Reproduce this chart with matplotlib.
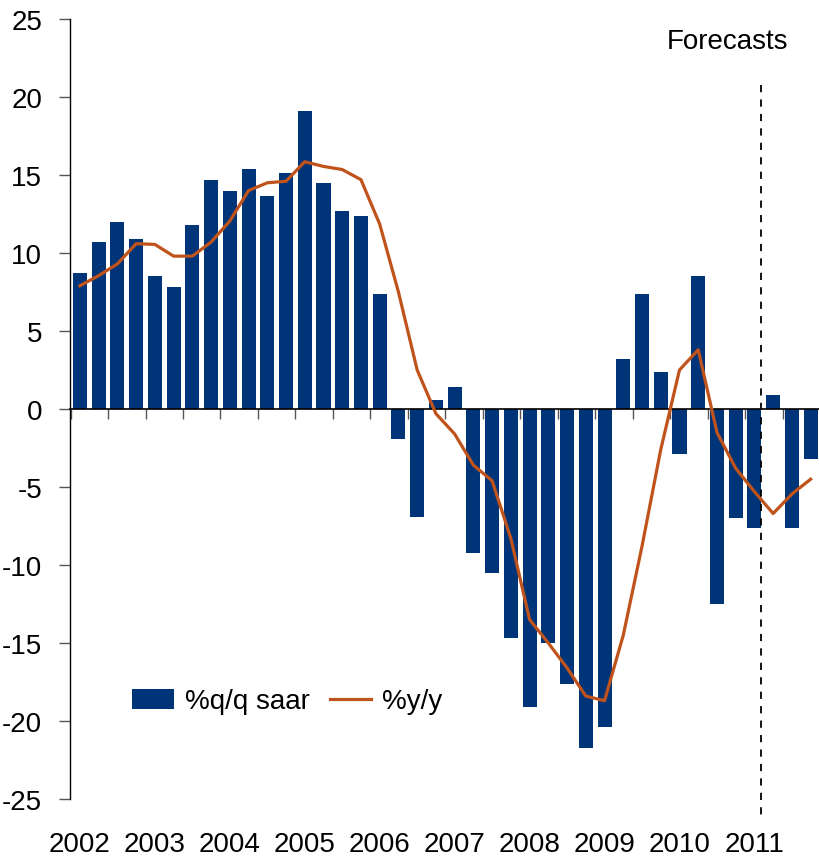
import matplotlib
matplotlib.use("Agg")
import matplotlib.pyplot as plt
import numpy as np

# quarterly data 2002Q1 .. 2011Q4
years = ["2002", "2003", "2004", "2005", "2006", "2007", "2008", "2009", "2010", "2011"]
qq_saar = [8.7, 10.7, 12.0, 10.9, 8.5, 7.8, 11.8, 14.7,
           14.0, 15.4, 13.65, 15.1, 19.1, 14.5, 12.7, 12.4,
           7.4, -1.9, -6.9, 0.6, 1.4, -9.2, -10.5, -14.7,
           -19.1, -15.0, -17.6, -21.7, -20.4, 3.2, 7.4, 2.4,
           -2.9, 8.5, -12.5, -7.0, -7.6, 0.9, -7.6, -3.2]
yy = [7.9, 8.55, 9.3, 10.6, 10.55, 9.8, 9.8, 10.7,
      12.05, 14.0, 14.5, 14.6, 15.85, 15.55, 15.35, 14.7,
      11.85, 7.5, 2.5, -0.3, -1.6, -3.6, -4.6, -8.3,
      -13.5, -15.0, -16.6, -18.4, -18.7, -14.5, -8.8, -2.6,
      2.5, 3.8, -1.5, -3.8, -5.3, -6.7, -5.45, -4.5]
forecast_start = 36.35

plt.rcParams['font.family'] = ['Liberation Sans', 'DejaVu Sans']
plt.rcParams['axes.unicode_minus'] = False

bar_col = "#003478"
line_col = "#C0531B"

fig = plt.figure(figsize=(8.2, 8.62), dpi=100)
ax = fig.add_axes([70 / 820, 62 / 862, 750 / 820, 780 / 862])

x = np.arange(len(qq_saar))
bars = ax.bar(x, qq_saar, width=0.75, color=bar_col, label="%q/q saar", zorder=2)
line, = ax.plot(x, yy, color=line_col, lw=2.3, label="%y/y", zorder=3)

ax.set_xlim(-0.53, 39.4)
ax.set_ylim(-25, 25)
ax.set_yticks(range(-25, 26, 5))
ax.tick_params(axis='y', labelsize=20, length=8, width=1, color="#555555", pad=12)

# x axis sits on zero, small ticks every half year
ax.spines['bottom'].set_position(('data', 0))
ax.spines['top'].set_visible(False)
ax.spines['right'].set_visible(False)
ax.spines['left'].set_linewidth(1)
ax.spines['bottom'].set_linewidth(1.2)
ax.set_xticks(np.arange(-0.5, 40, 2))
ax.tick_params(axis='x', direction='out', length=7, width=1, color="#555555", labelbottom=False)

for i, yr in enumerate(years):
    ax.text(i * 4, -0.058, yr, transform=ax.get_xaxis_transform(),
            ha='center', va='center', fontsize=20)

# forecast marker
ax.plot([forecast_start, forecast_start], [20.8, -26.3], color='black', lw=1.3,
        ls=(0, (4, 4)), clip_on=False, zorder=4)
ax.text(37.8, 23.6, "Forecasts", ha='right', va='center', fontsize=20)

ax.legend([bars, line], ["%q/q saar", "%y/y"], loc='center', bbox_to_anchor=(0.29, 0.125),
          ncol=2, frameon=False, fontsize=20, handlelength=1.5, handletextpad=0.4,
          columnspacing=0.7)

fig.savefig("out.png", dpi=100)
